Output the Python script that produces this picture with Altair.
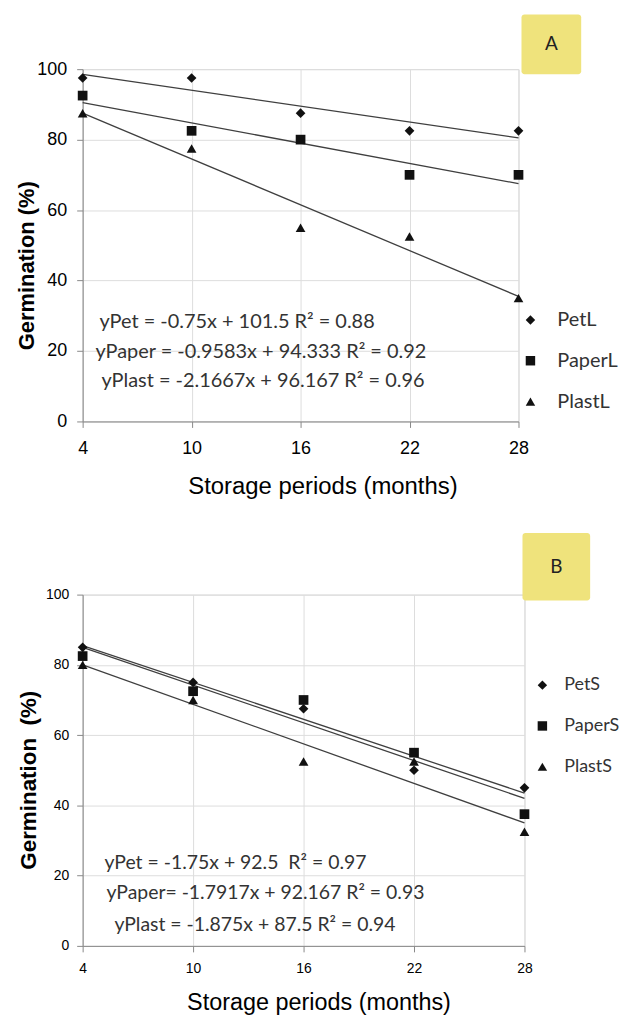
import altair as alt
import pandas as pd

# ---------------- data ----------------
months = [4, 10, 16, 22, 28]
petL = [97.5, 97.5, 87.5, 82.5, 82.5]
paperL = [92.5, 82.5, 80, 70, 70]
plastL = [87.5, 77.5, 55, 52.5, 35]
petS = [85, 75, 67.5, 50, 45]
paperS = [82.5, 72.5, 70, 55, 37.5]
plastS = [80, 70, 52.5, 52.5, 32.5]

series_A = ["PetL", "PaperL", "PlastL"]
series_B = ["PetS", "PaperS", "PlastS"]
shapes = ["diamond", "square", "triangle-up"]

eq_A = ["yPet = -0.75x + 101.5 R² = 0.88",
        "yPaper = -0.9583x + 94.333 R² = 0.92",
        "yPlast = -2.1667x + 96.167 R² = 0.96"]
eq_B = ["yPet = -1.75x + 92.5\u00a0 R² = 0.97",
        "yPaper= -1.7917x + 92.167 R² = 0.93",
        "yPlast = -1.875x + 87.5 R² = 0.94"]

x_ticks = [4, 10, 16, 22, 28]
y_ticks = [0, 20, 40, 60, 80, 100]
x_title = "Storage periods (months)"
y_title_A = "Germination (%)"
y_title_B = "Germination\u00a0 (%)"
panel_labels = ["A", "B"]

FONT = "Lato"
TXT = "#333333"
AX = "#777777"


def panel(vals_list, names, eqs, label, W, H, tick_fs, xlab_pad, ylab_pad,
          ytitle, xt_fs, yt_fs, ttl_x, ttl_y, ytl_x, ytl_y, eq_fs, eq_pos,
          leg_fs, leg_xy, leg_off, leg_pad, box):
    rows = []
    for n, vals in zip(names, vals_list):
        for m, v in zip(months, vals):
            rows.append({"month": m, "germ": v, "series": n})
    df = pd.DataFrame(rows)

    xenc = alt.X("month:Q",
                 scale=alt.Scale(domain=[4, 28], nice=False, zero=False),
                 axis=alt.Axis(values=x_ticks, title=x_title, labelFlush=False,
                               labelOverlap=False, labelFontSize=tick_fs,
                               labelPadding=xlab_pad, tickSize=6,
                               titleFontSize=xt_fs, titleFontWeight="normal",
                               titleX=ttl_x, titleY=ttl_y, titleBaseline="middle"))
    yenc = alt.Y("germ:Q",
                 scale=alt.Scale(domain=[0, 100], nice=False),
                 axis=alt.Axis(values=y_ticks, title=ytitle, labelOverlap=False,
                               labelFontSize=tick_fs, labelPadding=ylab_pad,
                               tickSize=6, titleFontSize=yt_fs, titleFontWeight="bold",
                               titleX=ytl_x, titleY=ytl_y, titleBaseline="middle"))

    reg = alt.Chart(df).transform_regression(
        "month", "germ", groupby=["series"], extent=[4, 28]
    ).mark_line(color="#3f3f3f", strokeWidth=1.3).encode(
        x=xenc, y=yenc, detail="series:N")

    pts = alt.Chart(df).mark_point(filled=True, size=95, opacity=1).encode(
        x=xenc, y=yenc,
        shape=alt.Shape("series:N",
                        scale=alt.Scale(domain=names, range=shapes),
                        legend=alt.Legend(title=None, orient="none",
                                          legendX=leg_xy[0], legendY=leg_xy[1],
                                          labelFontSize=leg_fs, labelFont=FONT,
                                          labelColor=TXT, symbolSize=90,
                                          symbolFillColor="#111111",
                                          symbolStrokeWidth=0,
                                          rowPadding=leg_pad, labelOffset=leg_off)),
        color=alt.value("#111111"))

    layers = [reg, pts]
    for (ex, ey), e in zip(eq_pos, eqs):
        layers.append(
            alt.Chart(pd.DataFrame({"t": [e]})).mark_text(
                align="left", baseline="middle", fontSize=eq_fs, font=FONT, color=TXT
            ).encode(text="t:N", x=alt.value(ex), y=alt.value(ey)))

    bx1, bx2, by1, by2 = box
    lab_df = pd.DataFrame({"label": [label]})
    layers.append(alt.Chart(lab_df).mark_rect(color="#EFE37C", cornerRadius=3).encode(
        x=alt.value(bx1), x2=alt.value(bx2), y=alt.value(by1), y2=alt.value(by2)))
    layers.append(alt.Chart(lab_df).mark_text(
        fontSize=19, font=FONT, color="#222222", align="center", baseline="middle"
    ).encode(text="label:N", x=alt.value((bx1 + bx2) / 2), y=alt.value((by1 + by2) / 2)))

    return alt.layer(*layers).properties(width=W, height=H)


chart_A = panel([petL, paperL, plastL], series_A, eq_A, panel_labels[0],
                438, 354, 18, 12, 10, y_title_A, 24, 22, 241, 65, -56, 197,
                20, [(17, 254), (13, 284), (19, 313)],
                20, (440, 242), 17, 21,
                (441, 501, -55, 5))

chart_B = panel([petS, paperS, plastS], series_B, eq_B, panel_labels[1],
                444, 353, 14, 10, 8, y_title_B, 23.5, 22.5, 237, 57, -54, 186,
                19.5, [(22, 270), (24, 300), (32, 332)],
                18, (453, 82), 13, 23,
                (442, 510, -62, 6))

chart = alt.vconcat(chart_A, chart_B, spacing=33).resolve_scale(
    shape="independent"
).properties(
    padding={"left": 7, "top": 3, "right": 0, "bottom": 0}
).configure_view(stroke=None).configure_axis(
    grid=False, domainColor=AX, tickColor=AX, domainWidth=1.3, tickWidth=1.3,
    labelFont=FONT, titleFont=FONT, labelColor=TXT, titleColor=TXT
).configure(background="white")

chart.save("out.html", embed_options={"renderer": "svg", "actions": False})
